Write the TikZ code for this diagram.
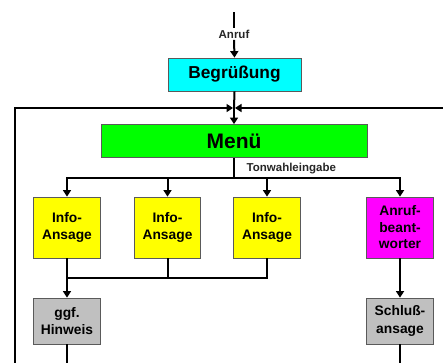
\documentclass[tikz,border=0pt]{standalone}
\usepackage{fontspec}
\setmainfont{Liberation Sans}
\usetikzlibrary{arrows.meta}
\definecolor{cyanbox}{RGB}{0,255,255}
\definecolor{greenbox}{RGB}{0,255,0}
\definecolor{yellowbox}{RGB}{255,255,0}
\definecolor{magentabox}{RGB}{255,0,255}
\definecolor{graybox}{RGB}{192,192,192}
\definecolor{boxline}{RGB}{90,90,90}
\begin{document}
\begin{tikzpicture}[x=1pt,y=-1pt,
  box/.style={draw=boxline, line width=0.8pt, inner sep=0pt, align=center,
    font=\bfseries\fontsize{13.8}{17.5}\selectfont},
  small/.style={box, minimum width=66.5pt},
  conn/.style={line width=2pt},
  arr/.style={conn, -{Triangle[length=6.5pt,width=8pt]}},
  lbl/.style={font=\bfseries\fontsize{11.5}{13}\selectfont, inner sep=1.5pt, text=black!85}]
\useasboundingbox (0,0) rectangle (443,362);
% nodes
\node[box, fill=cyanbox, minimum width=133pt, minimum height=33pt,
      font=\bfseries\fontsize{17.3}{20}\selectfont] (beg) at (234.5,74.5) {Begrüßung};
\node[box, fill=greenbox, minimum width=266pt, minimum height=33pt,
      font=\bfseries\fontsize{21}{24}\selectfont] (menu) at (234,141) {Menü};
\node[small, fill=yellowbox, minimum height=61pt] (i1) at (67,227.5) {Info-\\Ansage};
\node[small, fill=yellowbox, minimum height=61pt] (i2) at (167.5,227.5) {Info-\\Ansage};
\node[small, fill=yellowbox, minimum height=61pt] (i3) at (267,227.5) {Info-\\Ansage};
\node[small, fill=magentabox, minimum height=61pt,
      font=\bfseries\fontsize{13.8}{16.5}\selectfont] (ab) at (400,227.5) {Anruf-\\beant-\\worter};
\node[small, fill=graybox, minimum height=46pt] (hin) at (67,321) {ggf.\\Hinweis};
\node[small, fill=graybox, minimum height=46pt] (sch) at (400,321) {Schluß-\\ansage};
% labels
\node[lbl] (anr) at (234,34) {Anruf};
\node[lbl, anchor=west] (ton) at (245,169) {Tonwahleingabe};
% coordinates
\coordinate (top) at (234,12);
\coordinate (jn) at (234,108);
\coordinate (lin) at (15,364);
\coordinate (rin) at (445,108);
\coordinate (mb) at (234,177.5);
\coordinate (cb) at (67,277.5);
\coordinate (hout) at (67,364);
\coordinate (sout) at (400,364);
% connectors
\draw[conn] (top) -- (anr.north);
\draw[arr] (anr.south) -- (beg.north);
\draw[conn] (beg.south) -- (jn);
\draw[arr] (jn) -- (menu.north);
\draw[arr] (lin) |- ([xshift=-1pt]jn);
\draw[arr] (rin) -- ([xshift=1pt]jn);
\draw[conn] (menu.south) -- (mb);
\draw[arr] (mb) -| (i1.north);
\draw[arr] (mb) -| (i2.north);
\draw[arr] (mb) -| (i3.north);
\draw[arr] (mb) -| (ab.north);
\draw[conn] (i2.south) |- (cb);
\draw[conn] (i3.south) |- (cb);
\draw[arr] (i1.south) -- (hin.north);
\draw[arr] (ab.south) -- (sch.north);
\draw[conn] (hin.south) -- (hout);
\draw[conn] (sch.south) -- (sout);
\end{tikzpicture}
\end{document}
